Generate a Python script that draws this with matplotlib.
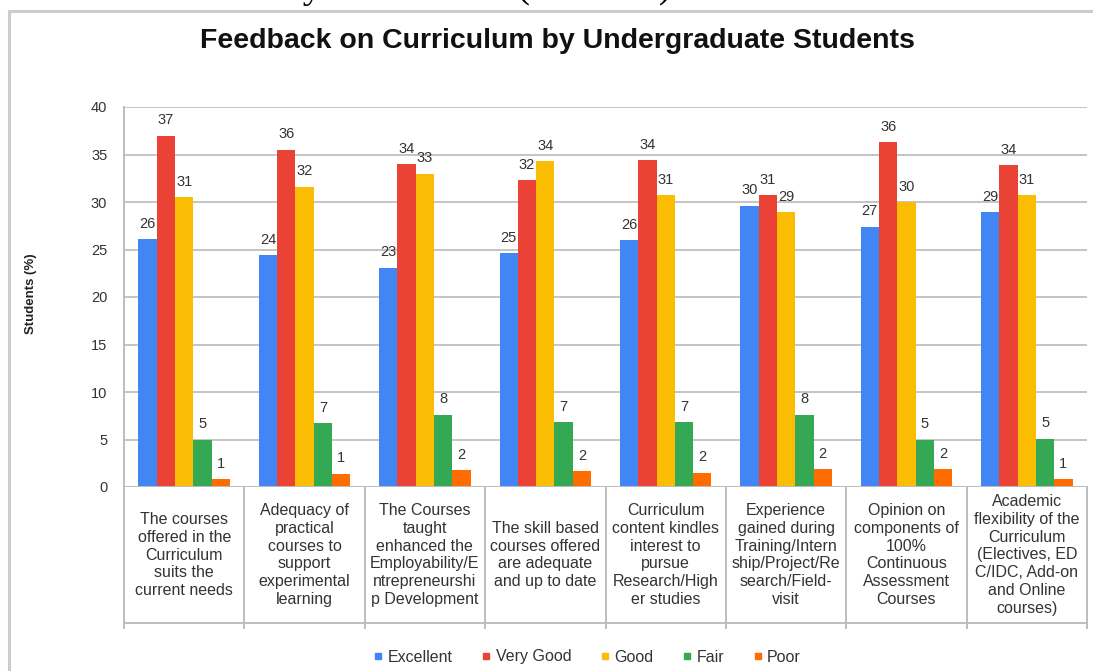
import numpy as np
import matplotlib
matplotlib.use("Agg")
import matplotlib.pyplot as plt
from matplotlib.lines import Line2D
from matplotlib.patches import Rectangle

plt.rcParams['font.family'] = ['Liberation Sans', 'DejaVu Sans']

# Datos
categorias = [
    "The courses\noffered in the\nCurriculum\nsuits the\ncurrent needs",
    "Adequacy of\npractical\ncourses to\nsupport\nexperimental\nlearning",
    "The Courses\ntaught\nenhanced the\nEmployability/E\nntrepreneurshi\np Development",
    "The skill based\ncourses offered\nare adequate\nand up to date",
    "Curriculum\ncontent kindles\ninterest to\npursue\nResearch/High\ner studies",
    "Experience\ngained during\nTraining/Intern\nship/Project/Re\nsearch/Field-\nvisit",
    "Opinion on\ncomponents of\n100%\nContinuous\nAssessment\nCourses",
    "Academic\nflexibility of the\nCurriculum\n(Electives, ED\nC/IDC, Add-on\nand Online\ncourses)",
]
series = ["Excellent", "Very Good", "Good", "Fair", "Poor"]
excellent = [26.1, 24.4, 23.1, 24.6, 26.0, 29.6, 27.4, 28.9]
very_good = [37.0, 35.5, 34.0, 32.3, 34.4, 30.7, 36.3, 33.9]
good = [30.5, 31.6, 33.0, 34.3, 30.7, 28.9, 30.0, 30.7]
fair = [5.0, 6.7, 7.6, 6.8, 6.8, 7.6, 5.0, 5.1]
poor = [0.8, 1.4, 1.8, 1.7, 1.5, 1.9, 1.9, 0.8]
etq_excellent = [26, 24, 23, 25, 26, 30, 27, 29]
etq_very_good = [37, 36, 34, 32, 34, 31, 36, 34]
etq_good = [31, 32, 33, 34, 31, 29, 30, 31]
etq_fair = [5, 7, 8, 7, 7, 8, 5, 5]
etq_poor = [1, 1, 2, 2, 2, 2, 2, 1]
y_ticks = [0, 5, 10, 15, 20, 25, 30, 35, 40]

valores = [excellent, very_good, good, fair, poor]
etiquetas = [etq_excellent, etq_very_good, etq_good, etq_fair, etq_poor]
colores = ['#4285F4', '#EA4335', '#FBBC04', '#34A853', '#FF6D01']

W, H = 1093, 671
fig = plt.figure(figsize=(W / 100, H / 100), dpi=100)

# Marco exterior y texto cortado arriba (del documento original)
fig.add_artist(Rectangle((9 / W, -0.1), 1.1, 1 - 11 / H + 0.1, transform=fig.transFigure,
                         fill=False, edgecolor='#cccccc', lw=2.2))
fig.text(322 / W, 1 + 3 / H, "Feedback Status by", ha='right', va='baseline',
         fontsize=28, family='Liberation Serif')
fig.text(516 / W, 1 + 3 / H, "(2023-24)", ha='left', va='baseline',
         fontsize=28, family='Liberation Serif')

ax = fig.add_axes([124 / W, 1 - 487 / H, (1087 - 124) / W, 380 / H])
x = np.arange(len(categorias))
ancho = 0.152
for i, (vals, etq, col) in enumerate(zip(valores, etiquetas, colores)):
    pos = x + (i - 2) * ancho
    ax.bar(pos, vals, width=ancho, color=col, label=series[i], zorder=3)
    for px, v, t in zip(pos, vals, etq):
        ax.annotate(str(t), (px, v), xytext=(0, 6), textcoords='offset points',
                    ha='center', va='bottom', fontsize=10.5, color='#333333')

ax.set_xlim(-0.5, len(categorias) - 0.5)
ax.set_ylim(0, 40)
ax.set_yticks(y_ticks)
ax.tick_params(axis='y', length=0, pad=12, labelsize=10.5, labelcolor='#333333')
ax.set_xticks([])
ax.yaxis.grid(True, color='#c4c4c4', lw=1.4, zorder=0)
for s in ['top', 'right', 'bottom']:
    ax.spines[s].set_visible(False)
ax.spines['left'].set_color('#bdbdbd')
ax.spines['left'].set_linewidth(1.4)
ax.axhline(0, color='#bdbdbd', lw=1.4, zorder=4)
ax.set_ylabel('Students (%)', fontsize=9.5, fontweight='bold', color='#222222')
ax.yaxis.set_label_coords(-(124 - 37) / 963, 0.51)

# Tabla de categorias
trans = ax.get_xaxis_transform()
caja_h = (623 - 487) / 380
ax.plot([-0.5, len(categorias) - 0.5], [-caja_h, -caja_h], transform=trans,
        color='#bdbdbd', lw=1.4, clip_on=False)
for k in range(len(categorias) + 1):
    ax.plot([k - 0.5, k - 0.5], [0, -caja_h - 0.012], transform=trans,
            color='#bdbdbd', lw=1.4, clip_on=False)
for k, c in enumerate(categorias):
    ax.text(k, -(555 - 487) / 380, c, transform=trans, ha='center', va='center',
            fontsize=11.5, color='#333333', linespacing=1.23)

fig.text(557 / W, 1 - 41 / H, 'Feedback on Curriculum by Undergraduate Students',
         ha='center', va='center', fontsize=20.5, fontweight='bold', color='#111111')

handles = [Line2D([], [], marker='s', ls='none', color=c, markersize=5) for c in colores]
fig.legend(handles, series, loc='center', bbox_to_anchor=(587 / W, 1 - 657 / H),
           ncol=5, frameon=False, fontsize=11.5, handlelength=0.6, handletextpad=0.3,
           columnspacing=1.8, labelcolor='#333333')

fig.savefig('out.png', dpi=100)
